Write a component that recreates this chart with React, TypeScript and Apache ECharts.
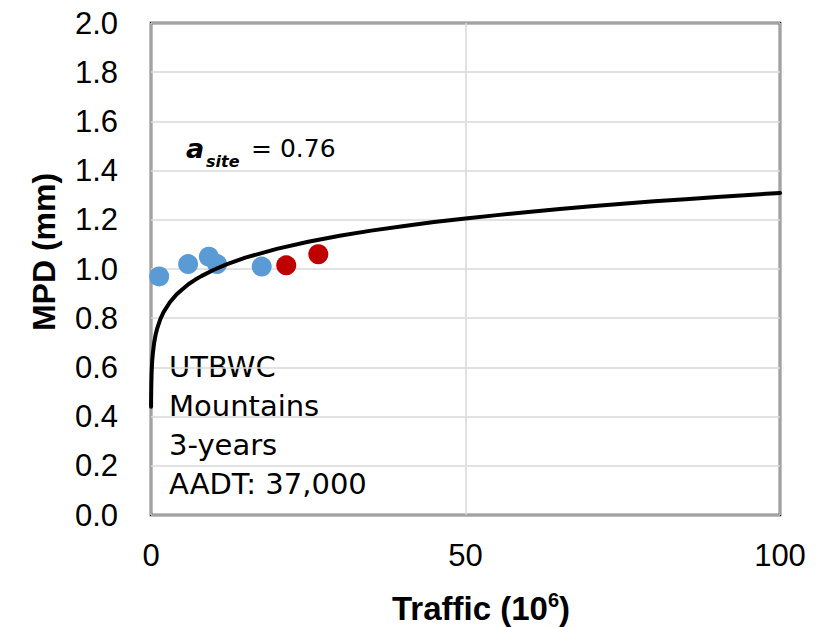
import React, { useEffect, useRef } from "react";
import * as echarts from "echarts";

// Measured points (Traffic in 10^6, MPD in mm)
const blueTraffic = [1.3, 5.9, 9.2, 10.5, 17.6];
const blueMPD = [0.97, 1.02, 1.05, 1.02, 1.01];
const redTraffic = [21.5, 26.6];
const redMPD = [1.015, 1.06];

// Fitted curve
const curveTraffic = [0.01, 0.02, 0.05, 0.1, 0.2, 0.3, 0.5, 0.75, 1, 1.5, 2, 3, 4, 5, 6, 7, 8, 10, 12, 15, 20, 25, 30, 35, 40, 45, 50, 55, 60, 65, 70, 75, 80, 85, 90, 95, 100];
const curveMPD = [0.44, 0.48, 0.53, 0.58, 0.63, 0.659, 0.7, 0.735, 0.76, 0.797, 0.825, 0.865, 0.895, 0.918, 0.939, 0.956, 0.971, 0.997, 1.019, 1.046, 1.082, 1.111, 1.135, 1.156, 1.174, 1.191, 1.205, 1.219, 1.232, 1.244, 1.255, 1.265, 1.275, 1.284, 1.293, 1.301, 1.309];

const annotationLines = ["UTBWC", "Mountains", "3-years", "AADT: 37,000"];
const coefLabel = "a";
const coefSub = "site";
const coefValue = "= 0.76";
const xTitle = "Traffic (10";
const xTitleSup = "6";
const yTitle = "MPD (mm)";

const pair = (xs: number[], ys: number[]) => xs.map((x, i) => [x, ys[i]]);

export default function App() {
  const ref = useRef<HTMLDivElement>(null);
  useEffect(() => {
    document.body.style.margin = "0";
    const chart = echarts.init(ref.current!, null, { renderer: "svg" });
    const annFont = "'DejaVu Sans', sans-serif";
    const axFont = "'Liberation Sans', Arial, sans-serif";
    chart.setOption({
      animation: false,
      grid: {
        left: 151,
        right: 48,
        top: 23,
        bottom: 112,
        show: true,
        borderColor: "#000",
        borderWidth: 2.5,
        outerBoundsMode: "none",
      },
      xAxis: {
        type: "value",
        min: 0,
        max: 100,
        interval: 50,
        axisLine: { show: false },
        axisTick: { show: false },
        splitLine: { show: true, lineStyle: { color: "#d9d9d9", width: 1.5 } },
        axisLabel: { fontSize: 31, color: "#000", fontFamily: axFont, margin: 25 },
      },
      yAxis: {
        type: "value",
        min: 0,
        max: 2,
        interval: 0.2,
        axisLine: { show: false },
        axisTick: { show: false },
        splitLine: { show: true, lineStyle: { color: "#d9d9d9", width: 1.5 } },
        axisLabel: {
          fontSize: 31,
          color: "#000",
          fontFamily: axFont,
          margin: 33,
          formatter: (v: number) => v.toFixed(1),
        },
      },
      series: [
        {
          type: "scatter",
          data: pair(blueTraffic, blueMPD),
          symbolSize: 20,
          itemStyle: { color: "#5B9BD5", opacity: 1 },
          z: 2,
        },
        {
          type: "scatter",
          data: pair(redTraffic, redMPD),
          symbolSize: 20,
          itemStyle: { color: "#C00000", opacity: 1 },
          z: 2,
        },
        {
          type: "line",
          data: pair(curveTraffic, curveMPD),
          showSymbol: false,
          symbol: "none",
          smooth: false,
          lineStyle: { color: "#000", width: 4, join: "round", cap: "round" },
          z: 3,
        },
      ],
      graphic: [
        ...annotationLines.map((t, i) => ({
          type: "text",
          left: 169,
          top: 352 + i * 39,
          style: { text: t, fontSize: 29, fontFamily: annFont, fill: "#000" },
        })),
        {
          type: "text",
          x: 186,
          y: 148,
          style: {
            text: coefLabel,
            fontSize: 27,
            fontWeight: "bold",
            fontStyle: "italic",
            fontFamily: annFont,
            fill: "#000",
            verticalAlign: "middle",
            align: "left",
          },
        },
        {
          type: "text",
          x: 206,
          y: 161,
          style: {
            text: coefSub,
            fontSize: 16,
            fontWeight: "bold",
            fontStyle: "italic",
            fontFamily: annFont,
            fill: "#000",
            verticalAlign: "middle",
            align: "left",
          },
        },
        {
          type: "text",
          x: 251,
          y: 148,
          style: {
            text: coefValue,
            fontSize: 25,
            fontFamily: annFont,
            fill: "#000",
            verticalAlign: "middle",
            align: "left",
          },
        },
        {
          type: "text",
          x: 44,
          y: 252,
          rotation: Math.PI / 2,
          style: {
            text: yTitle,
            fontSize: 32,
            fontWeight: "bold",
            fontFamily: axFont,
            fill: "#000",
            align: "center",
            verticalAlign: "middle",
          },
        },
        {
          type: "text",
          x: 481,
          y: 608,
          style: {
            text: "{t|" + xTitle + "}{s|" + xTitleSup + "}{t|)}",
            align: "center",
            verticalAlign: "middle",
            fill: "#000",
            rich: {
              t: { fontSize: 33, fontWeight: "bold", fontFamily: axFont, lineHeight: 36, fill: "#000" },
              s: { fontSize: 20, fontWeight: "bold", fontFamily: axFont, lineHeight: 36, verticalAlign: "top", fill: "#000" },
            },
          },
        },
      ],
    });
    return () => chart.dispose();
  }, []);
  return <div ref={ref} style={{ width: 828, height: 627 }} />;
}
